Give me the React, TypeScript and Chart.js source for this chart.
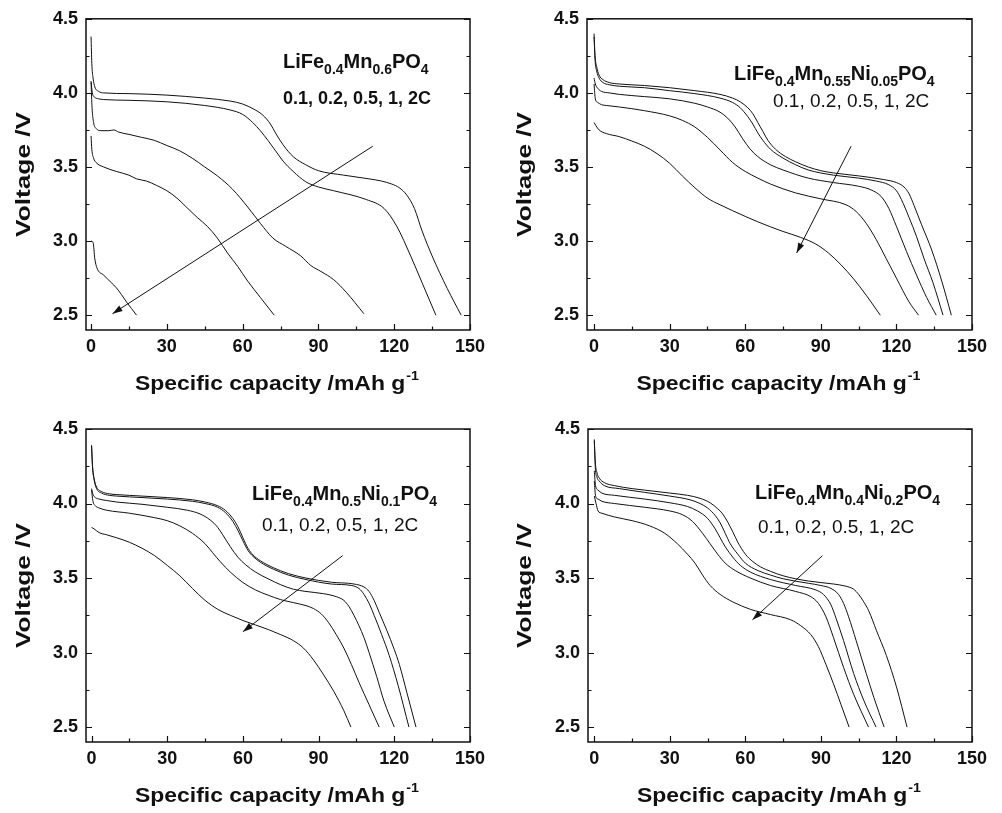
import React, { useEffect, useRef } from "react";
import { Chart, registerables } from "chart.js";
Chart.register(...registerables);

type Pt = [number, number];
type Seg = [string, string];

// ---------- axis ticks ----------
const xTickValues = [0, 30, 60, 90, 120, 150];
const xMinorValues = [15, 45, 75, 105, 135];
const yTickValues = [2.5, 3.0, 3.5, 4.0, 4.5];
const yMinorValues = [2.75, 3.25, 3.75, 4.25];
const rateNames = ["0.1C", "0.2C", "0.5C", "1C", "2C"];
const rateText = "0.1, 0.2, 0.5, 1, 2C";
const xTitle = "Specific capacity /mAh g";
const xTitleSup = "-1";
const yTitle = "Voltage /V";

// ---------- panel A : LiFe0.4Mn0.6PO4 ----------
const formulaA: Seg[] = [["LiFe", ""], ["0.4", "sub"], ["Mn", ""], ["0.6", "sub"], ["PO", ""], ["4", "sub"]];
const a01: Pt[] = [[0,4.38],[0.3,4.2],[0.8,4.1],[1.5,4.04],[3,4.01],[5,4.0],[15,3.995],[30,3.985],[45,3.965],[55,3.945],[60,3.925],[65,3.885],[68,3.85],[71,3.79],[73,3.73],[76,3.65],[80,3.57],[85,3.515],[90,3.475],[100,3.445],[110,3.42],[115,3.405],[119,3.385],[122,3.36],[125,3.31],[128,3.22],[131,3.07],[135,2.9],[141,2.68],[146.5,2.5]];
const a02: Pt[] = [[0,4.08],[0.5,4.0],[1.5,3.97],[3,3.96],[5,3.955],[15,3.95],[30,3.94],[45,3.915],[55,3.885],[60,3.855],[64,3.8],[67,3.745],[70,3.68],[73,3.61],[76,3.54],[80,3.47],[85,3.4],[90,3.365],[96,3.34],[109,3.28],[116,3.22],[121,3.1],[126.5,2.9],[131,2.72],[136.5,2.5]];
const a05: Pt[] = [[0,4.07],[0.4,3.9],[1,3.8],[2,3.76],[4,3.745],[7,3.745],[9,3.75],[11,3.735],[15,3.72],[20,3.7],[25,3.68],[30,3.645],[35,3.61],[40,3.56],[45,3.5],[50,3.44],[56,3.35],[62,3.23],[67,3.12],[72,3.02],[77,2.965],[83,2.9],[87,2.835],[91,2.795],[96,2.74],[101,2.655],[108,2.51]];
const a1: Pt[] = [[0,3.71],[0.3,3.62],[1,3.56],[2,3.53],[5,3.5],[10,3.47],[15,3.445],[18,3.42],[22,3.405],[26,3.375],[30,3.34],[34,3.29],[38,3.225],[42,3.16],[46,3.1],[50,3.02],[54,2.92],[58,2.83],[62,2.73],[67,2.62],[72.5,2.5]];
const a2: Pt[] = [[0,3.0],[0.8,2.99],[1.5,2.88],[2.3,2.82],[5,2.77],[8,2.72],[10,2.685],[12,2.64],[14,2.59],[16,2.545],[18,2.5]];
const arrowA: Pt[] = [[111.5, 3.64], [8.5, 2.51]];

// ---------- panel B : LiFe0.4Mn0.55Ni0.05PO4 ----------
const formulaB: Seg[] = [["LiFe", ""], ["0.4", "sub"], ["Mn", ""], ["0.55", "sub"], ["Ni", ""], ["0.05", "sub"], ["PO", ""], ["4", "sub"]];
const b01: Pt[] = [[0,4.4],[0.4,4.25],[1,4.18],[2,4.12],[3.5,4.09],[6,4.07],[10,4.06],[20,4.05],[30,4.035],[40,4.015],[50,3.99],[55,3.965],[58,3.94],[61,3.9],[63,3.86],[65,3.8],[67,3.74],[69,3.68],[72,3.62],[76,3.57],[80,3.535],[85,3.5],[90,3.475],[95,3.46],[105,3.44],[115,3.415],[120,3.395],[123,3.365],[125,3.32],[127,3.24],[130,3.11],[134,2.94],[138,2.73],[141.8,2.5]];
const b02: Pt[] = [[0,4.38],[0.4,4.22],[1,4.15],[2,4.1],[3.5,4.07],[6,4.055],[10,4.045],[20,4.035],[30,4.015],[40,3.995],[50,3.965],[55,3.935],[58,3.9],[61,3.84],[63,3.79],[65,3.73],[67,3.68],[70,3.62],[75,3.56],[80,3.515],[85,3.48],[95,3.445],[105,3.425],[112,3.405],[117,3.38],[120,3.34],[122,3.28],[125,3.16],[128,3.03],[131,2.88],[134.5,2.72],[138.5,2.5]];
const b05: Pt[] = [[0,4.1],[0.5,4.06],[1.5,4.03],[3,4.01],[6,4.0],[10,3.99],[20,3.975],[30,3.96],[40,3.93],[45,3.905],[50,3.87],[53,3.83],[56,3.77],[59,3.69],[62,3.62],[65,3.57],[70,3.515],[75,3.48],[85,3.425],[95,3.395],[105,3.37],[110,3.345],[114,3.3],[117,3.22],[120,3.1],[124,2.93],[128,2.77],[132,2.62],[135.8,2.5]];
const b1: Pt[] = [[0,4.06],[0.5,3.96],[1.5,3.935],[3,3.92],[5,3.915],[10,3.905],[20,3.88],[30,3.845],[35,3.815],[40,3.77],[45,3.7],[50,3.615],[55,3.53],[60,3.47],[65,3.425],[70,3.385],[80,3.325],[90,3.285],[100,3.245],[104,3.2],[108,3.12],[112,3.01],[116,2.88],[120,2.75],[125,2.59],[128.8,2.5]];
const b2: Pt[] = [[0,3.8],[0.7,3.78],[2,3.75],[5,3.725],[10,3.705],[15,3.675],[20,3.64],[25,3.59],[30,3.525],[35,3.44],[40,3.36],[45,3.29],[50,3.245],[55,3.205],[65,3.13],[75,3.065],[82,3.025],[88,2.98],[93,2.92],[98,2.84],[103,2.745],[108,2.635],[113.6,2.5]];
const arrowB: Pt[] = [[102, 3.64], [80.4, 2.92]];

// ---------- panel C : LiFe0.4Mn0.5Ni0.1PO4 ----------
const formulaC: Seg[] = [["LiFe", ""], ["0.4", "sub"], ["Mn", ""], ["0.5", "sub"], ["Ni", ""], ["0.1", "sub"], ["PO", ""], ["4", "sub"]];
const c01: Pt[] = [[0,4.39],[0.4,4.25],[1,4.17],[2,4.11],[4,4.08],[7,4.065],[10,4.06],[20,4.05],[30,4.04],[40,4.025],[45,4.01],[50,3.985],[53,3.955],[56,3.9],[58,3.845],[60,3.77],[62,3.7],[64,3.655],[67,3.615],[72,3.57],[78,3.53],[85,3.5],[95,3.472],[104,3.46],[108,3.44],[110,3.41],[112,3.35],[114,3.27],[117,3.15],[120,3.02],[122,2.92],[125,2.73],[128.6,2.5]];
const c02: Pt[] = [[0,4.39],[0.4,4.24],[1,4.16],[2,4.1],[4,4.07],[7,4.055],[10,4.05],[20,4.04],[30,4.03],[40,4.015],[45,4.0],[50,3.975],[53,3.94],[56,3.88],[58,3.82],[60,3.75],[62,3.685],[64,3.645],[67,3.605],[72,3.56],[78,3.52],[85,3.49],[95,3.46],[103,3.45],[106,3.43],[108,3.39],[110,3.33],[112,3.25],[115,3.12],[118,2.98],[121.5,2.78],[125.8,2.5]];
const c05: Pt[] = [[0,4.1],[0.6,4.06],[1.5,4.04],[3,4.03],[6,4.02],[10,4.01],[20,3.995],[30,3.975],[38,3.955],[43,3.93],[47,3.89],[50,3.84],[52,3.79],[55,3.71],[58,3.64],[61,3.59],[65,3.54],[70,3.495],[75,3.455],[80,3.425],[85,3.41],[92,3.395],[97,3.375],[100,3.35],[102,3.31],[104,3.25],[106,3.18],[108,3.1],[110,3.0],[113,2.84],[116,2.67],[120,2.5]];
const c1: Pt[] = [[0,4.09],[0.5,4.02],[1.5,3.985],[3,3.97],[6,3.955],[15,3.935],[25,3.905],[30,3.885],[35,3.85],[40,3.8],[45,3.73],[48,3.67],[51,3.61],[55,3.54],[60,3.47],[65,3.42],[70,3.385],[75,3.355],[80,3.335],[85,3.315],[88,3.295],[91,3.26],[94,3.2],[97,3.12],[100,3.03],[103,2.92],[106,2.8],[110,2.65],[114,2.5]];
const c2: Pt[] = [[0,3.84],[1,3.83],[3,3.805],[6,3.79],[10,3.77],[15,3.74],[20,3.7],[25,3.65],[30,3.585],[35,3.515],[40,3.43],[45,3.35],[50,3.29],[55,3.25],[60,3.215],[65,3.185],[70,3.155],[75,3.12],[80,3.08],[84,3.03],[88,2.95],[92,2.85],[96,2.74],[100,2.61],[102.8,2.5]];
const arrowC: Pt[] = [[99.5, 3.65], [60, 3.14]];

// ---------- panel D : LiFe0.4Mn0.4Ni0.2PO4 ----------
const formulaD: Seg[] = [["LiFe", ""], ["0.4", "sub"], ["Mn", ""], ["0.4", "sub"], ["Ni", ""], ["0.2", "sub"], ["PO", ""], ["4", "sub"]];
const d01: Pt[] = [[0,4.43],[0.4,4.28],[1,4.21],[2,4.17],[4,4.14],[8,4.12],[15,4.1],[20,4.09],[30,4.07],[37,4.055],[42,4.035],[46,4.005],[49,3.965],[51,3.93],[53,3.875],[55,3.81],[57,3.74],[60,3.66],[63,3.61],[66,3.575],[70,3.545],[75,3.515],[85,3.48],[95,3.46],[100,3.445],[103,3.425],[105,3.39],[107,3.34],[109,3.28],[112,3.15],[116,2.98],[120,2.77],[124.2,2.5]];
const d02: Pt[] = [[0,4.42],[0.4,4.24],[1,4.18],[2,4.15],[4,4.12],[10,4.1],[20,4.075],[30,4.05],[38,4.025],[42,4.0],[45,3.97],[48,3.92],[50,3.87],[52,3.8],[54,3.73],[57,3.66],[60,3.6],[65,3.55],[70,3.52],[75,3.495],[85,3.465],[90,3.45],[94,3.43],[97,3.39],[99,3.33],[101,3.24],[104,3.08],[108,2.86],[111,2.7],[115.1,2.5]];
const d05: Pt[] = [[0,4.22],[0.5,4.12],[1.5,4.09],[3,4.07],[8,4.055],[20,4.03],[30,4.005],[37,3.98],[41,3.95],[45,3.9],[48,3.83],[50,3.77],[52,3.71],[55,3.64],[58,3.585],[62,3.54],[70,3.49],[80,3.45],[88,3.42],[91,3.39],[94,3.32],[96,3.23],[99,3.08],[103,2.86],[107,2.68],[111.9,2.5]];
const d1: Pt[] = [[0,4.15],[0.5,4.05],[1.5,4.03],[3,4.015],[8,4.0],[20,3.975],[30,3.95],[35,3.925],[39,3.88],[43,3.8],[46,3.73],[49,3.66],[52,3.6],[56,3.55],[62,3.5],[70,3.45],[80,3.41],[86,3.375],[89,3.33],[92,3.24],[95,3.1],[99,2.9],[103,2.72],[108.9,2.5]];
const d2: Pt[] = [[0,4.05],[0.7,4.0],[1.5,3.95],[3,3.935],[8,3.91],[15,3.885],[22,3.85],[28,3.8],[33,3.73],[37,3.66],[40,3.6],[43,3.52],[46,3.45],[50,3.39],[55,3.34],[62,3.29],[70,3.255],[78,3.22],[82,3.18],[86,3.12],[89,3.04],[92,2.92],[95,2.79],[98,2.65],[101.2,2.5]];
const arrowD: Pt[] = [[90.6, 3.65], [62.8, 3.22]];

// ---------- layout (pixels) ----------
interface PanelCfg {
  curves: Pt[][];
  formula: Seg[];
  arrow: Pt[];
  left: number; top: number; w: number; h: number;
  pad: { left: number; right: number; top: number; bottom: number };
  yWidth: number; xHeight: number; xMin: number;
  fx: number; fy: number; rx: number; ry: number; rateBold: boolean;
}

const panels: PanelCfg[] = [
  { curves: [a01, a02, a05, a1, a2], formula: formulaA, arrow: arrowA, left: 0, top: 0, w: 501, h: 406,
    pad: { left: 0, right: 31, top: 18, bottom: 0 }, yWidth: 86, xHeight: 76, xMin: -2,
    fx: 283, fy: 68, rx: 283, ry: 104, rateBold: true },
  { curves: [b01, b02, b05, b1, b2], formula: formulaB, arrow: arrowB, left: 501, top: 0, w: 501, h: 406,
    pad: { left: 0, right: 30, top: 18, bottom: 0 }, yWidth: 86, xHeight: 76, xMin: -2.8,
    fx: 233, fy: 80, rx: 272, ry: 107, rateBold: false },
  { curves: [c01, c02, c05, c1, c2], formula: formulaC, arrow: arrowC, left: 0, top: 406, w: 501, h: 407,
    pad: { left: 0, right: 31, top: 23, bottom: 0 }, yWidth: 86, xHeight: 71, xMin: -2.2,
    fx: 252, fy: 94, rx: 262, ry: 125, rateBold: false },
  { curves: [d01, d02, d05, d1, d2], formula: formulaD, arrow: arrowD, left: 501, top: 406, w: 501, h: 407,
    pad: { left: 0, right: 30, top: 23, bottom: 0 }, yWidth: 87, xHeight: 71, xMin: -2.5,
    fx: 254, fy: 93, rx: 257, ry: 127, rateBold: false },
];

const INK = "#111";
const SANS = "'Liberation Sans', Arial, sans-serif";
const tickFont = { family: SANS, size: 18, weight: "bold" as const };

function drawRich(ctx: CanvasRenderingContext2D, segs: Seg[], x: number, y: number) {
  let cx = x;
  for (const [t, kind] of segs) {
    const sub = kind === "sub";
    ctx.font = sub ? `bold 14px ${SANS}` : `bold 20px ${SANS}`;
    ctx.fillText(t, cx, sub ? y + 6 : y);
    cx += ctx.measureText(t).width;
  }
}

function makeDecor(cfg: PanelCfg) {
  return {
    id: "decor",
    afterDraw(chart: any) {
      const ctx: CanvasRenderingContext2D = chart.ctx;
      const a = chart.chartArea;
      const xs = chart.scales.x;
      const ys = chart.scales.y;
      ctx.save();
      ctx.strokeStyle = INK;
      ctx.fillStyle = INK;
      // frame
      ctx.lineWidth = 1.5;
      ctx.strokeRect(a.left, a.top, a.right - a.left, a.bottom - a.top);
      // ticks (inward)
      ctx.lineWidth = 1.2;
      ctx.beginPath();
      const xt = [...xTickValues.map((v) => [v, 6]), ...xMinorValues.map((v) => [v, 3.5])];
      for (const [v, len] of xt) {
        const px = Math.round(xs.getPixelForValue(v)) + 0.5;
        ctx.moveTo(px, a.bottom);
        ctx.lineTo(px, a.bottom - len);
      }
      const yt = [...yTickValues.map((v) => [v, 6]), ...yMinorValues.map((v) => [v, 3.5])];
      for (const [v, len] of yt) {
        const py = Math.round(ys.getPixelForValue(v)) + 0.5;
        ctx.moveTo(a.left, py);
        ctx.lineTo(a.left + len, py);
        ctx.moveTo(a.right, py);
        ctx.lineTo(a.right - len, py);
      }
      ctx.stroke();
      // arrow
      const [p0, p1] = cfg.arrow;
      const x0 = xs.getPixelForValue(p0[0]), y0 = ys.getPixelForValue(p0[1]);
      const x1 = xs.getPixelForValue(p1[0]), y1 = ys.getPixelForValue(p1[1]);
      ctx.lineWidth = 1;
      ctx.beginPath();
      ctx.moveTo(x0, y0);
      ctx.lineTo(x1, y1);
      ctx.stroke();
      const ang = Math.atan2(y1 - y0, x1 - x0);
      const L = 10, Wd = 3.2;
      ctx.beginPath();
      ctx.moveTo(x1, y1);
      ctx.lineTo(x1 - L * Math.cos(ang) + Wd * Math.sin(ang), y1 - L * Math.sin(ang) - Wd * Math.cos(ang));
      ctx.lineTo(x1 - L * Math.cos(ang) - Wd * Math.sin(ang), y1 - L * Math.sin(ang) + Wd * Math.cos(ang));
      ctx.closePath();
      ctx.fill();
      // annotation text
      ctx.textBaseline = "alphabetic";
      ctx.textAlign = "left";
      drawRich(ctx, cfg.formula, cfg.fx, cfg.fy);
      ctx.font = cfg.rateBold ? `bold 18px ${SANS}` : `19px ${SANS}`;
      ctx.fillText(rateText, cfg.rx, cfg.ry);
      // x title (stretched to the reference width)
      ctx.font = `bold 21px ${SANS}`;
      const mainW = ctx.measureText(xTitle).width;
      ctx.font = `bold 13px ${SANS}`;
      const supW = ctx.measureText(xTitleSup).width;
      const natural = mainW + 1 + supW;
      const sx = 284 / natural;
      const cx = (a.left + a.right) / 2 - 1;
      ctx.save();
      ctx.translate(cx - 142, a.bottom + 60);
      ctx.scale(sx, 1);
      ctx.font = `bold 21px ${SANS}`;
      ctx.fillText(xTitle, 0, 0);
      ctx.font = `bold 13px ${SANS}`;
      ctx.fillText(xTitleSup, mainW + 1, -10);
      ctx.restore();
      // y title
      ctx.save();
      ctx.font = `bold 21px ${SANS}`;
      const yw = ctx.measureText(yTitle).width;
      ctx.translate(24, (a.top + a.bottom) / 2);
      ctx.rotate(-Math.PI / 2);
      ctx.scale(125 / yw, 1);
      ctx.textAlign = "center";
      ctx.textBaseline = "middle";
      ctx.fillText(yTitle, 0, 0);
      ctx.restore();
      ctx.restore();
    },
  };
}

function Panel({ cfg }: { cfg: PanelCfg }) {
  const ref = useRef<HTMLCanvasElement | null>(null);
  useEffect(() => {
    if (!ref.current) return;
    const chart = new Chart(ref.current, {
      type: "line",
      data: {
        datasets: cfg.curves.map((pts, i) => ({
          label: rateNames[i],
          data: pts.map(([x, y]) => ({ x, y })),
          borderColor: INK,
          borderWidth: 1,
          pointRadius: 0,
          fill: false,
          cubicInterpolationMode: "monotone" as const,
        })),
      },
      options: {
        responsive: false,
        animation: false,
        events: [],
        layout: { padding: cfg.pad },
        plugins: { legend: { display: false }, tooltip: { enabled: false }, title: { display: false } },
        scales: {
          x: {
            type: "linear",
            min: cfg.xMin,
            max: 150,
            afterBuildTicks: (s: any) => { s.ticks = xTickValues.map((v) => ({ value: v })); },
            afterFit: (s: any) => { s.height = cfg.xHeight; },
            ticks: { font: tickFont, color: INK, padding: 6, maxRotation: 0, autoSkip: false, callback: (v: any) => String(v) },
            grid: { display: false, drawTicks: false },
            border: { display: false },
          },
          y: {
            type: "linear",
            min: 2.4,
            max: 4.5,
            afterBuildTicks: (s: any) => { s.ticks = yTickValues.map((v) => ({ value: v })); },
            afterFit: (s: any) => { s.width = cfg.yWidth; },
            ticks: { font: tickFont, color: INK, padding: 8, autoSkip: false, callback: (v: any) => Number(v).toFixed(1) },
            grid: { display: false, drawTicks: false },
            border: { display: false },
          },
        },
      },
      plugins: [makeDecor(cfg)],
    } as any);
    return () => chart.destroy();
  }, [cfg]);
  return (
    <canvas
      ref={ref}
      width={cfg.w}
      height={cfg.h}
      style={{ position: "absolute", left: cfg.left, top: cfg.top, width: cfg.w, height: cfg.h }}
    />
  );
}

export default function App() {
  return (
    <div style={{ position: "absolute", left: 0, top: 0, width: 1002, height: 813, background: "#fff" }}>
      {panels.map((p, i) => (
        <Panel key={i} cfg={p} />
      ))}
    </div>
  );
}
